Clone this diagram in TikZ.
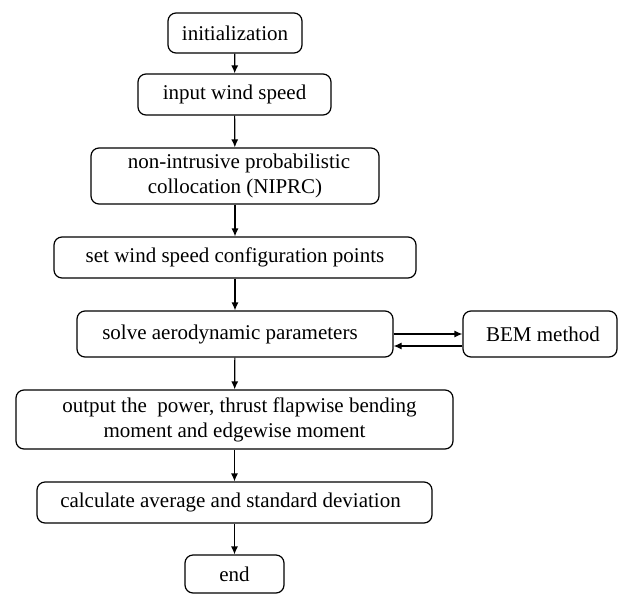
\documentclass[tikz,border=0pt]{standalone}
\usepackage{fontspec}
\setmainfont{Liberation Serif}
\usetikzlibrary{arrows.meta}
\begin{document}
\begin{tikzpicture}[x=1pt,y=-1pt,
  box/.style={draw, line width=1.2pt, rounded corners=8pt, inner sep=0pt,
    align=center, font=\fontsize{21}{25}\selectfont},
  arr/.style={line width=1.2pt, -{Latex[length=8pt,width=7pt]}}]
\useasboundingbox (0,0) rectangle (629,595);
\node[box, minimum width=134pt, minimum height=40pt] (init) at (235,33) {initialization};
\node[box, minimum width=193pt, minimum height=41pt] (input) at (234.5,94.5) {input wind speed};
\node[box, minimum width=288pt, minimum height=56pt] (niprc) at (235,176) {\hspace*{8pt}non-intrusive probabilistic\\collocation (NIPRC)};
\node[box, minimum width=362pt, minimum height=41pt] (set) at (235,257.5) {set wind speed configuration points};
\node[box, minimum width=316pt, minimum height=46pt] (solve) at (235,334) {solve aerodynamic parameters\hspace*{10pt}};
\node[box, minimum width=154pt, minimum height=46pt] (bem) at (540,334) {\hspace*{6pt}BEM method};
\node[box, minimum width=437pt, minimum height=59pt] (output) at (234.5,419.5) {\hspace*{10pt}output the\ \ power, thrust flapwise bending\\moment and edgewise moment};
\node[box, minimum width=395pt, minimum height=41pt] (calc) at (234.5,502.5) {calculate average and standard deviation\hspace*{8pt}};
\node[box, minimum width=99pt, minimum height=38pt] (end) at (234.5,574) {end};
\draw[arr] (init) -- (input);
\draw[arr] (input) -- (niprc);
\draw[arr] (niprc) -- (set);
\draw[arr] (set) -- (solve);
\draw[arr] (solve.east) -- (bem.west);
\draw[arr] ([yshift=-12pt]bem.west) -- ([yshift=-12pt]solve.east);
\draw[arr] (solve) -- (output);
\draw[arr] (output) -- (calc);
\draw[arr] (calc) -- (end);
\end{tikzpicture}
\end{document}
